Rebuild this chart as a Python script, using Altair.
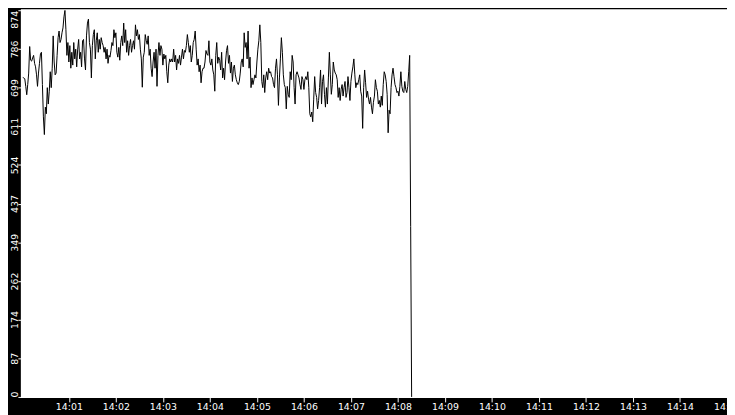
import altair as alt
import pandas as pd

values_a = [722, 721, 719, 702, 683, 706, 732, 792, 761, 759, 766, 772, 754, 746, 728, 702, 732, 754, 775, 779,
            706, 633, 593, 655, 640, 699, 662, 691, 735, 699, 743, 816, 757, 728, 732, 772, 812, 827, 801, 808,
            823, 834, 859, 874, 830, 772, 801, 757, 794, 743, 779, 750, 801, 764, 786, 746, 786, 808, 764, 779,
            746, 805, 808, 764, 739, 816, 845, 854, 801, 786, 721, 794, 819, 830, 764, 805, 823, 779, 808, 786,
            812, 801, 794, 779, 790, 764, 786, 754, 772, 768, 783, 801, 794, 830, 812, 823, 779, 768, 790, 761,
            801, 816, 794, 845, 801, 830, 779, 805, 772, 794, 808, 779, 794, 805, 786, 841, 816, 830, 808, 819,
            786, 764, 700, 768, 779, 819, 805, 797, 816, 772, 786, 743, 724, 757, 779, 743, 786, 702, 772, 801,
            772, 794, 786, 750, 775, 764, 772, 735, 710, 750, 764, 757, 764, 757, 786, 757, 772, 739, 764, 754,
            772, 750, 768, 786, 764, 783, 779, 794, 819, 801, 779, 794, 757, 772, 801, 808, 827, 786, 750, 764,
            735, 750, 710, 735, 743, 743]
values_b = [757, 783, 775, 772, 805, 757, 750, 764, 739, 728, 691, 772, 801, 754, 768, 761, 739, 779, 721, 743,
            717, 757, 783, 794, 754, 772, 732, 757, 713, 743, 750, 728, 717, 710, 706, 713, 732, 757, 764, 746,
            823, 790, 801, 764, 827, 743, 768, 699, 721, 706, 717, 728, 721, 757, 786, 805, 841, 801, 713, 699,
            728, 688, 721, 735, 717, 743, 732, 735, 724, 721, 706, 699, 743, 764, 728, 659, 721, 764, 812, 779,
            728, 706, 699, 651, 702, 684, 677, 735, 717, 772, 757, 699, 662, 728, 735, 728, 721, 706, 695, 724]
values_c = [717, 695, 717, 724, 717, 735, 699, 640, 633, 644, 622, 673, 724, 688, 677, 651, 670, 699, 739, 662,
            713, 728, 684, 655, 699, 662, 721, 779, 728, 684, 706, 757, 739, 732, 728, 717, 677, 699, 670, 695,
            706, 680, 699, 713, 677, 688, 724, 699, 670, 713, 732, 746, 764, 728, 699, 710, 706, 717, 728, 691,
            680, 607, 699, 739, 710, 677, 691, 673, 662, 677, 655, 640, 666, 680, 717, 699, 691, 662, 670, 655,
            680, 659, 706, 735, 728, 713, 684, 597, 648, 640, 699, 728, 743, 724, 706, 699, 688, 691, 680, 702,
            735, 702, 691, 688, 713, 695, 688, 702, 735, 772]
values_end = [385, 0]

y_ticks = [0, 87.4, 174.8, 262.2, 349.6, 437, 524.4, 611.8, 699.2, 786.6, 874]
x_tick_minutes = list(range(1, 16))

vals = values_a + values_b + values_c + values_end
times = pd.date_range("2024-01-01 14:00:01.250", periods=len(vals), freq="1250ms")
df = pd.DataFrame({"t": times, "v": vals})

font = "DejaVu Sans"

x_axis = alt.Axis(
    values=[alt.DateTime(year=2024, month=1, date=1, hours=14, minutes=m) for m in x_tick_minutes],
    format="%H:%M", title=None, grid=False, domain=False,
    tickColor="white", tickSize=5, labelColor="white", labelFont=font, labelFontSize=9.5,
    labelPadding=0, labelFlush=False, labelOverlap=False, labelBound=False,
)
y_axis = alt.Axis(
    values=y_ticks, labelExpr="floor(datum.value)", title=None, grid=False, domain=False,
    tickColor="white", tickSize=4, labelColor="white", labelFont=font, labelFontSize=9.5,
    labelAngle=270, labelPadding=0, labelBaseline="alphabetic",
    labelAlign={"condition": [{"test": "datum.value >= 873", "value": "right"},
                              {"test": "datum.value <= 0", "value": "left"}],
                "value": "center"},
    labelOverlap=False, labelFlush=False,
)

chart = alt.Chart(df).mark_line(color="black", strokeWidth=1, clip=True).encode(
    x=alt.X("t:T", axis=x_axis,
            scale=alt.Scale(domain=[alt.DateTime(year=2024, month=1, date=1, hours=14, minutes=0),
                                    alt.DateTime(year=2024, month=1, date=1, hours=14, minutes=15)])),
    y=alt.Y("v:Q", axis=y_axis, scale=alt.Scale(domain=[0, 874], nice=False, zero=True)),
).properties(
    width=713, height=391,
    autosize=alt.AutoSizeParams(type="none"),
    padding={"left": 14, "top": 0, "right": 0, "bottom": 16},
    background="black",
).configure_view(fill="white", stroke="white", strokeWidth=2)

chart.save("out.html", embed_options={"renderer": "svg", "actions": False})
